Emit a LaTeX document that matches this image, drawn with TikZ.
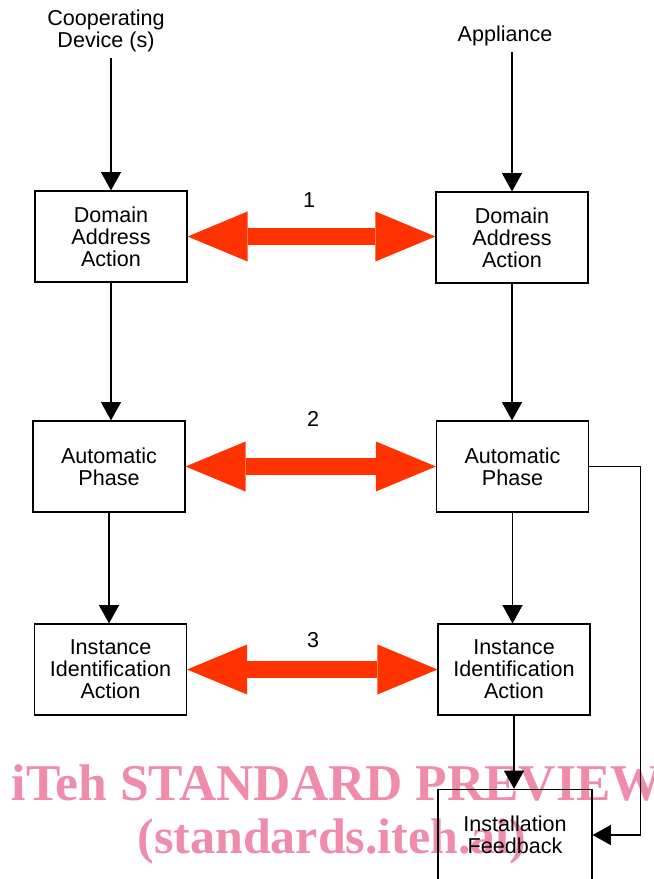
\documentclass[tikz,border=0pt]{standalone}
\usepackage{fontspec}
\setmainfont{Liberation Sans}
\newfontfamily\wmfont{Liberation Serif}
\usetikzlibrary{arrows.meta}

\begin{document}
\begin{tikzpicture}[x=0.03cm,y=-0.03cm,line join=miter,
  txt/.style={font=\fontsize{18.4}{18.8}\selectfont},
  box/.style={txt,draw,line width=1pt,minimum width=4.56cm,minimum height=2.73cm,align=center,inner sep=0pt},
  lab/.style={txt,align=center,outer sep=2pt},
  flow/.style={-{Triangle[length=0.55cm,width=0.6cm]},line width=1pt},
  link/.style={{Triangle[length=1.8cm,width=1.5cm,line width=0pt]}-{Triangle[length=1.8cm,width=1.5cm,line width=0pt]},line width=0.5cm,linkc},
  wm/.style={font=\wmfont\bfseries\fontsize{42.7}{45.2}\selectfont,text=wmpink,anchor=base}]

  \definecolor{linkc}{RGB}{255,51,0}
  \definecolor{wmpink}{RGB}{238,140,170}

  \useasboundingbox (0,0) rectangle (654,879);
  \clip (0,0) rectangle (654,879);

  % ---- watermark (behind) ----
  \node[wm,font=\wmfont\bfseries\fontsize{44}{46}\selectfont] (wm1) at (337,800) {iTeh STANDARD PREVIEW};
  \node[wm] (wm2) at (332,853) {(standards.iteh.ai)};

  % ---- column headings ----
  \node[lab] (coop) at (106,31) {Cooperating\\Device (s)};
  \node[lab] (app) at (505,36) {Appliance};

  % ---- cooperating device side ----
  \node[box] (dl) at (111,236.5) {Domain\\Address\\Action};
  \node[box] (al) at (109,466.5) {Automatic\\Phase};
  \node[box] (il) at (110.5,669.5) {Instance\\Identification\\Action};

  % ---- appliance side ----
  \node[box] (dr) at (512,237.5) {Domain\\Address\\Action};
  \node[box] (ar) at (512.5,466.5) {Automatic\\Phase};
  \node[box] (ir) at (514,669.5) {Instance\\Identification\\Action};
  \node[box,minimum width=4.62cm] (fb) at (515,835) {Installation\\Feedback};

  % ---- flow arrows ----
  \draw[flow] (dl.north |- coop.south) -- (dl.north);
  \draw[flow] (dl.south) -- (dl.south |- al.north);
  \draw[flow] (al.south) -- (al.south |- il.north);
  \draw[flow] (dr.north |- app.south) -- (dr.north);
  \draw[flow] (dr.south) -- (dr.south |- ar.north);
  \draw[flow] (ar.south) -- (ar.south |- ir.north);
  \draw[flow] (ir.south) -- (ir.south |- fb.north);
  % feedback loop on the right
  \draw[flow] (ar.east) -- ++(51,0) |- (fb.east);

  % ---- exchanges between the two sides ----
  \draw[link] (dl.east) -- (dl.east -| dr.west);
  \draw[link] (al.east) -- (al.east -| ar.west);
  \draw[link] (il.east) -- (il.east -| ir.west);
  \node[txt] (n1) at (309,200) {1};
  \node[txt] (n2) at (313,419) {2};
  \node[txt] (n3) at (313,640) {3};
\end{tikzpicture}
\end{document}
